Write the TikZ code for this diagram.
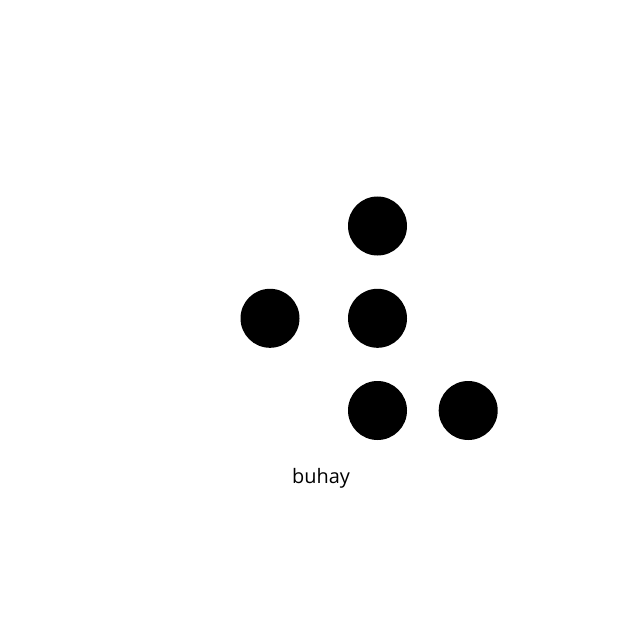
\documentclass[tikz,border=0pt]{standalone}
\usepackage{fontspec}
\setmainfont{Open Sans}
\begin{document}
\begin{tikzpicture}[x=1bp,y=-1bp,
  dot/.style={circle,fill=black,inner sep=0pt,minimum size=59bp},
  lbl/.style={font=\fontsize{20}{22}\selectfont,inner sep=0pt,anchor=base}]
\useasboundingbox (0,0) rectangle (640,640);
\fill[white] (0,0) rectangle (640,640);
\node[dot] (d1) at (377.5,226) {};
\node[dot] (d2) at (270,318.3) {};
\node[dot] (d3) at (377.5,318.3) {};
\node[dot] (d4) at (377.5,410.5) {};
\node[dot] (d5) at (468.2,410.5) {};
\node[lbl] (t) at (321,483.3) {buhay};
\end{tikzpicture}
\end{document}
